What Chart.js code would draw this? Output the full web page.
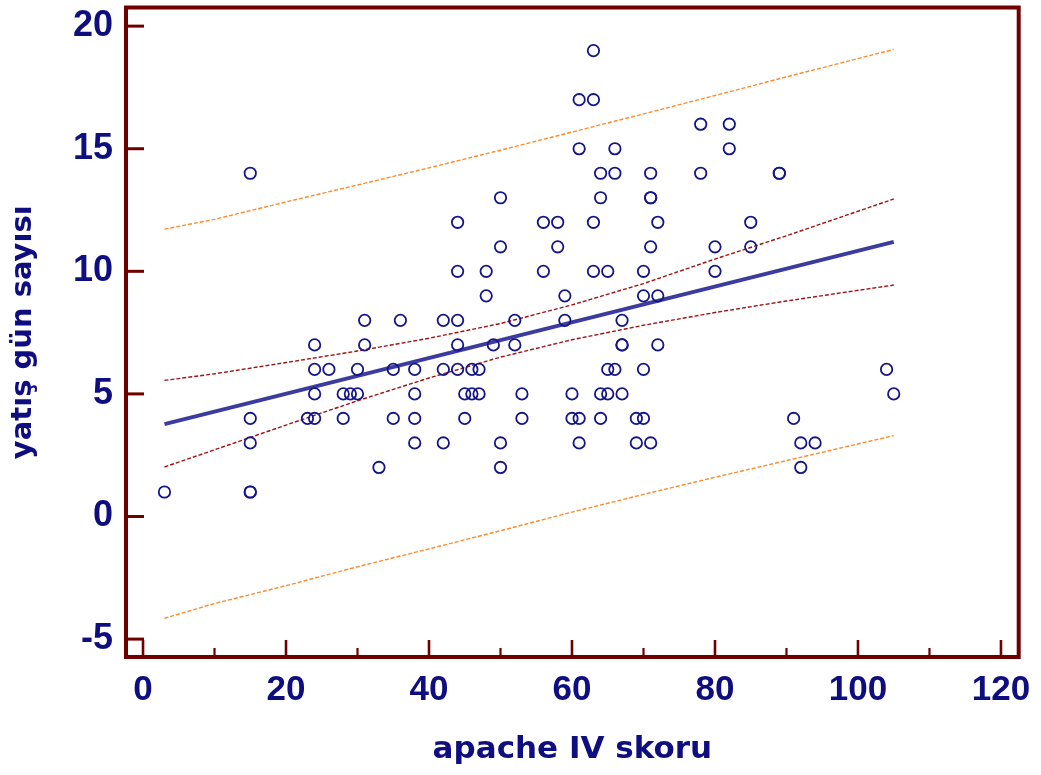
<!DOCTYPE html>
<html>
<head>
<meta charset="utf-8">
<script src="https://cdn.jsdelivr.net/npm/chart.js@4.4.1/dist/chart.umd.min.js"></script>
<style>
html,body{margin:0;padding:0;background:#ffffff;}
#wrap{width:1041px;height:775px;}
</style>
</head>
<body>
<div id="wrap"><canvas id="c" width="1041" height="775"></canvas></div>
<script>
// ---- data ----
const apacheScore = [3,15,15,15,15,15,23,24,24,24,24,26,28,28,29,30,30,31,31,33,35,35,36,38,38,38,38,
  42,42,42,44,44,44,44,44,45,45,46,46,47,47,48,48,49,50,50,50,50,52,52,53,53,56,56,58,58,59,59,60,60,
  61,61,61,61,63,63,63,63,64,64,64,64,65,65,65,66,66,66,67,67,67,67,69,69,70,70,70,70,71,71,71,71,71,
  72,72,72,78,78,80,80,82,82,85,85,89,89,91,92,92,94,104,105];
const stayDays = [1,14,4,3,1,1,4,7,6,5,4,6,5,4,5,5,6,7,8,2,6,4,8,6,5,4,3,
  8,6,3,12,10,8,7,6,5,4,6,5,6,5,10,9,7,13,11,3,2,8,7,5,4,12,10,12,11,9,8,5,4,
  17,15,4,3,19,17,12,10,14,13,5,4,10,6,5,15,14,6,8,7,7,5,4,3,10,9,6,4,14,13,13,11,3,
  12,9,7,16,14,11,10,16,15,12,11,14,14,4,3,2,3,6,5];

const fitX = [3, 105];
const fitY = [3.77, 11.2];

const bandX      = [3, 10, 20, 30, 40, 50, 60, 70, 80, 90, 105];
const confUpper  = [5.55, 5.82, 6.28, 6.75, 7.27, 7.87, 8.63, 9.50, 10.50, 11.45, 12.95];
const confLower  = [2.02, 2.72, 3.73, 4.72, 5.65, 6.50, 7.21, 7.80, 8.32, 8.79, 9.44];
const predUpper  = [11.72, 12.12, 12.83, 13.52, 14.22, 14.94, 15.68, 16.42, 17.17, 17.93, 19.05];
const predLower  = [-4.15, -3.55, -2.82, -2.05, -1.32, -0.58, 0.18, 0.90, 1.60, 2.28, 3.30];

const xTickValues = [0, 20, 40, 60, 80, 100, 120];
const xMinorTickValues = [10, 30, 50, 70, 90, 110];
const yTickValues = [-5, 0, 5, 10, 15, 20];

const xTitle = 'apache IV skoru';
const yTitle = 'yatış gün sayısı';

// ---- styles ----
const navy = '#0e0e80';
const frameColor = '#6e0000';

const pts = (xs, ys) => xs.map((x, i) => ({x: x, y: ys[i]}));

const framePlugin = {
  id: 'frameTicks',
  afterDraw(chart) {
    const {ctx, chartArea: {left, top, right, bottom}, scales: {x, y}} = chart;
    ctx.save();
    ctx.strokeStyle = frameColor;
    ctx.lineCap = 'butt';
    ctx.lineWidth = 3;
    yTickValues.forEach(v => {
      const py = y.getPixelForValue(v);
      ctx.beginPath(); ctx.moveTo(left, py); ctx.lineTo(left + 18, py); ctx.stroke();
    });
    ctx.lineWidth = 2.6;
    xTickValues.forEach(v => {
      const px = x.getPixelForValue(v);
      ctx.beginPath(); ctx.moveTo(px, bottom); ctx.lineTo(px, bottom - 17); ctx.stroke();
    });
    ctx.lineWidth = 2.2;
    xMinorTickValues.forEach(v => {
      const px = x.getPixelForValue(v);
      ctx.beginPath(); ctx.moveTo(px, bottom); ctx.lineTo(px, bottom - 9); ctx.stroke();
    });
    ctx.lineWidth = 4;
    ctx.strokeRect(left, top, right - left, bottom - top);
    ctx.restore();
  }
};

const lineDs = (label, xs, ys, color, width, dash, order) => ({
  type: 'line', label: label, data: pts(xs, ys), showLine: true,
  borderColor: color, borderWidth: width, borderDash: dash,
  pointRadius: 0, pointHoverRadius: 0, fill: false, tension: 0, order: order
});

new Chart(document.getElementById('c'), {
  type: 'scatter',
  data: {
    datasets: [
      {
        label: 'hasta', data: pts(apacheScore, stayDays), showLine: false,
        pointStyle: 'circle', pointRadius: 5.7, pointBorderWidth: 1.8,
        borderColor: '#15158a', backgroundColor: 'rgba(0,0,0,0)',
        pointBackgroundColor: 'rgba(0,0,0,0)', pointBorderColor: '#15158a', order: 0
      },
      lineDs('regresyon', fitX, fitY, '#3c3ca0', 4, [], 1),
      lineDs('güven üst', bandX, confUpper, '#9e1414', 1.4, [4, 2], 2),
      lineDs('güven alt', bandX, confLower, '#9e1414', 1.4, [4, 2], 2),
      lineDs('tahmin üst', bandX, predUpper, '#ff8a2a', 1.4, [4, 2], 3),
      lineDs('tahmin alt', bandX, predLower, '#ff8a2a', 1.4, [4, 2], 3)
    ]
  },
  options: {
    responsive: false,
    animation: false,
    devicePixelRatio: 1,
    layout: {padding: {left: 0, top: 5.3, right: 22.3, bottom: 0}},
    plugins: {legend: {display: false}, tooltip: {enabled: false}},
    scales: {
      x: {
        type: 'linear', min: -2.38, max: 122.48,
        grid: {display: false, drawTicks: false},
        border: {display: false},
        afterBuildTicks: (axis) => { axis.ticks = xTickValues.map(v => ({value: v})); },
        afterFit: (scale) => {
          scale.height = 118;
          scale.paddingLeft = 0; scale.paddingRight = 0; scale.paddingTop = 0; scale.paddingBottom = 0;
        },
        ticks: {
          autoSkip: false, maxRotation: 0, padding: 12, color: navy,
          font: {family: '"Liberation Sans", Arial, sans-serif', size: 35, weight: 'bold'}
        },
        title: {
          display: true, text: xTitle, color: navy,
          padding: {top: 0, bottom: 6},
          font: {family: '"DejaVu Sans", sans-serif', size: 31, weight: 'bold'}
        }
      },
      y: {
        type: 'linear', min: -5.73, max: 20.76,
        grid: {display: false, drawTicks: false},
        border: {display: false},
        afterBuildTicks: (axis) => { axis.ticks = yTickValues.map(v => ({value: v})); },
        afterFit: (scale) => {
          scale.width = 126;
          scale.paddingLeft = 0; scale.paddingRight = 0; scale.paddingTop = 0; scale.paddingBottom = 0;
        },
        ticks: {
          autoSkip: false, padding: 13, color: navy,
          font: {family: '"Liberation Sans", Arial, sans-serif', size: 36, weight: 'bold'}
        },
        title: {
          display: true, text: yTitle, color: navy,
          padding: {top: 6, bottom: 0},
          font: {family: '"DejaVu Sans", sans-serif', size: 29, weight: 'bold'}
        }
      }
    }
  },
  plugins: [framePlugin]
});
</script>
</body>
</html>
